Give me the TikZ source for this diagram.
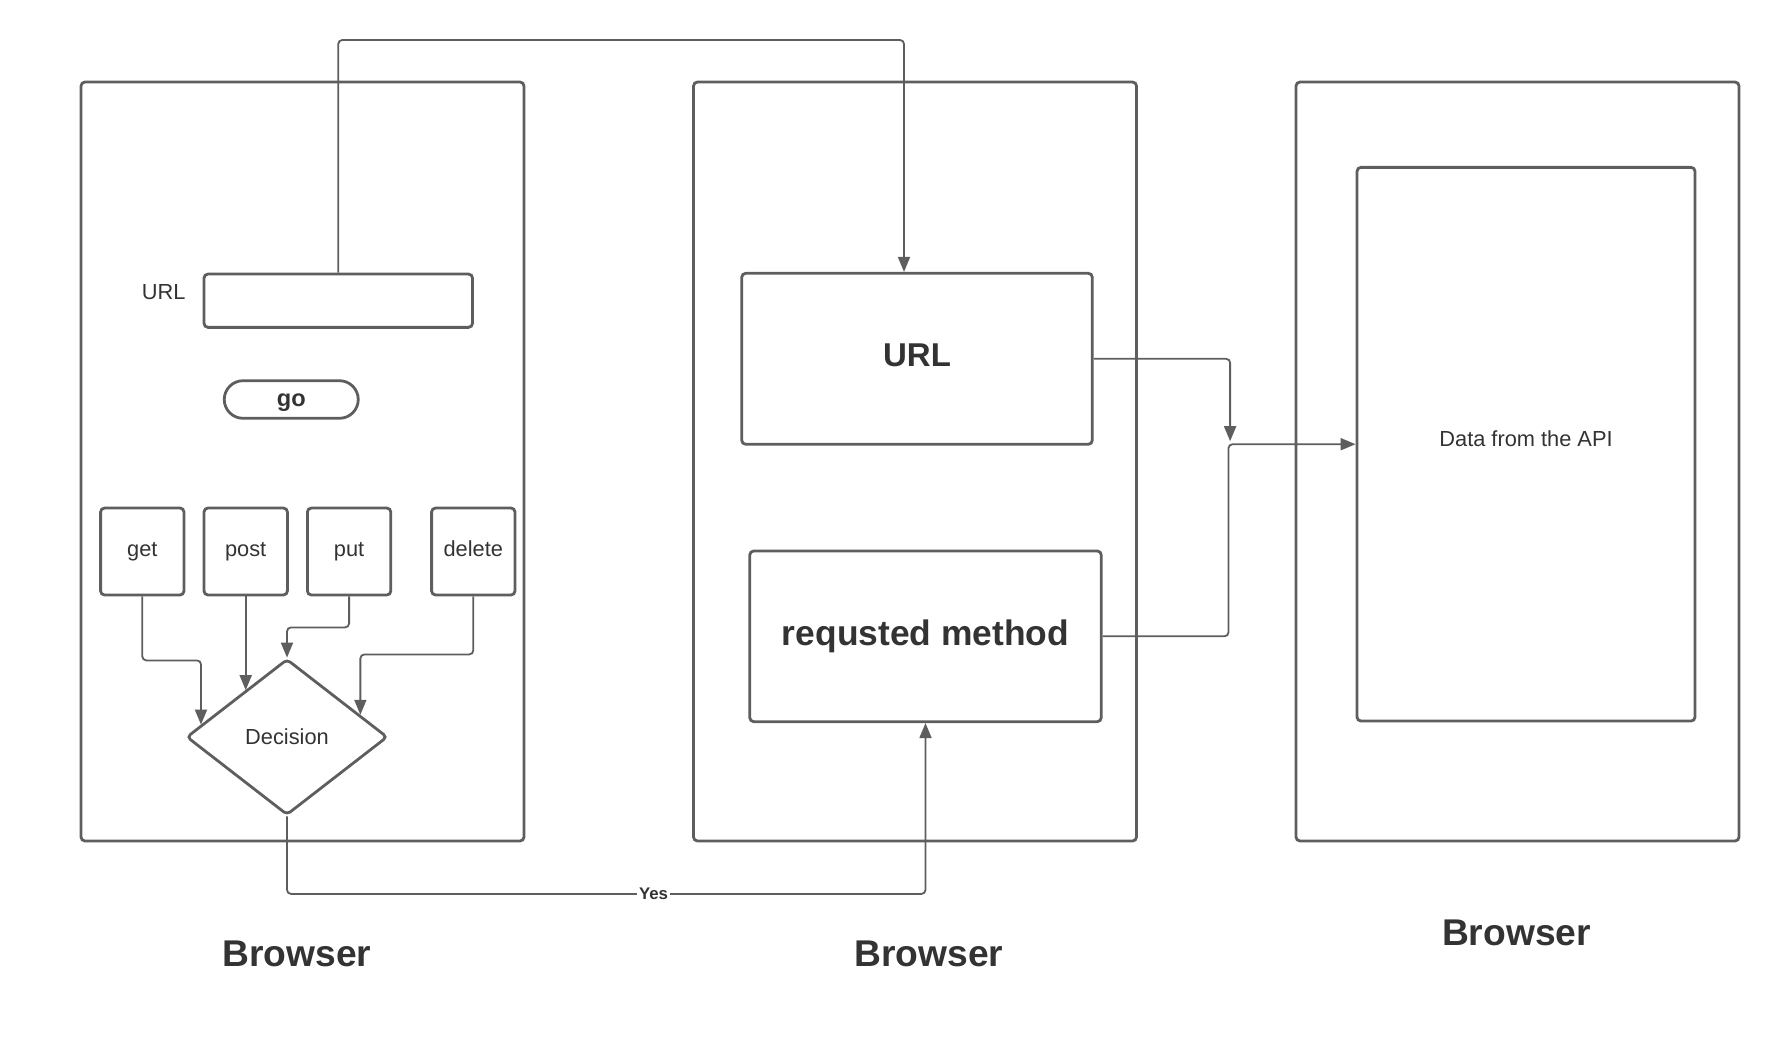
\documentclass[tikz,border=0pt]{standalone}
\usepackage{fontspec}
\setmainfont{Liberation Sans}
\usepackage{tikz}
\usetikzlibrary{arrows.meta}
\usetikzlibrary{shapes.geometric}
\usetikzlibrary{positioning}
\usetikzlibrary{calc}
\definecolor{linegray}{HTML}{5E5E5E}
\definecolor{textgray}{HTML}{333333}

\begin{document}
\begin{tikzpicture}[x=0.5pt,y=-0.5pt,>={Triangle[length=7.5pt,width=6pt]},
		panel/.style={draw=linegray,line width=1.4pt,rounded corners=2pt,inner sep=0pt,text=textgray},
		conn/.style={->,draw=linegray,line width=0.9pt,rounded corners=2pt},
		small/.style={font=\fontsize{10.9}{13}\selectfont,text=textgray},
		caption/.style={font=\bfseries\fontsize{18.6}{22}\selectfont,text=textgray}]
		\tikzstyle{methodbtn}=[panel,small,minimum width=41.7pt,minimum height=43.5pt,
			text height=8pt,text depth=3.5pt]
		\useasboundingbox (0,0) rectangle (1780,1045);
		
		% browser windows
		\node[panel,minimum width=221.5pt,minimum height=379.5pt] (L) at (302.5,461.5) {};
		\node[panel,minimum width=221.5pt,minimum height=379.5pt] (M) at (915,461.5) {};
		\node[panel,minimum width=221.5pt,minimum height=379.5pt] (R) at (1517.5,461.5) {};
		\node[caption] (CapL) at (297,954) {Browser};
		\node[caption] (CapM) at (929,954) {Browser};
		\node[caption] (CapR) at (1516.5,933) {Browser};
		
		% first window
		\node[small] (UrlLbl) at (163.6,291.7) {URL};
		\node[panel,minimum width=134.25pt,minimum height=26.65pt] (Url) at (338.25,300.7) {};
		\node[panel,rounded corners=9.4pt,minimum width=67pt,minimum height=18.8pt,
			text height=8pt,text depth=1pt,
			font=\bfseries\fontsize{11.8}{14}\selectfont] (Go) at (291.25,399.5) {go};
		\node[methodbtn] (Get) at (142.3,551.5) {get};
		\node[methodbtn,right=8.6pt of Get] (Post) {post};
		\node[methodbtn,right=8.6pt of Post] (Put) {put};
		\node[methodbtn,right=19pt of Put] (Del) {delete};
		\node[panel,small,diamond,minimum width=100.5pt,minimum height=78pt] (Dec) at (287,737) {Decision};
		
		% second window
		\node[panel,minimum width=175.3pt,minimum height=85.5pt,text depth=4pt,
			font=\bfseries\fontsize{16.5}{20}\selectfont] (UrlBox) at (917,358.8) {URL};
		\node[panel,minimum width=175.75pt,minimum height=85.35pt,
			font=\bfseries\fontsize{17.7}{21}\selectfont] (Meth) at (925.5,636.3) {requsted method};
		
		% third window
		\node[panel,small,minimum width=169pt,minimum height=276.85pt,text depth=5.5pt] (Data) at (1526,444.2) {Data from the API};
		
		\coordinate (DG) at ($(Dec.west)!0.156!(Dec.north)$);
		\coordinate (DP) at ($(Dec.west)!0.59!(Dec.north)$);
		\coordinate (DD) at ($(Dec.north)!0.72!(Dec.east)$);
		\coordinate (Top) at (600,40);
		\coordinate (J) at (1228.5,444.2);
		
		\draw[conn] (Get.south) -- ++(0,64) -| (DG);
		\draw[conn] (Post.south) -- (Post.south |- DP);
		\draw[conn] (Put.south) -- ++(0,31) -| (Dec.north);
		\draw[conn] (Del.south) -- ++(0,58) -| (DD);
		\draw[conn] (Url.north) |- (Top) -| ([xshift=-6.5pt]UrlBox.north);
		\draw[conn] (UrlBox.east) -| ([xshift=0.8pt,yshift=1.5pt]J);
		\draw[conn] (Meth.east) -| (J) -- (Data.west);
		\draw[conn] (Dec.south) -- ++(0,77.5) coordinate (Y)
			-- node[pos=0.574,fill=white,inner sep=1pt,text=textgray,
			font=\bfseries\fontsize{8.4}{10}\selectfont] {Yes} (Y -| Meth.south) -- (Meth.south);
\end{tikzpicture}
\end{document}
